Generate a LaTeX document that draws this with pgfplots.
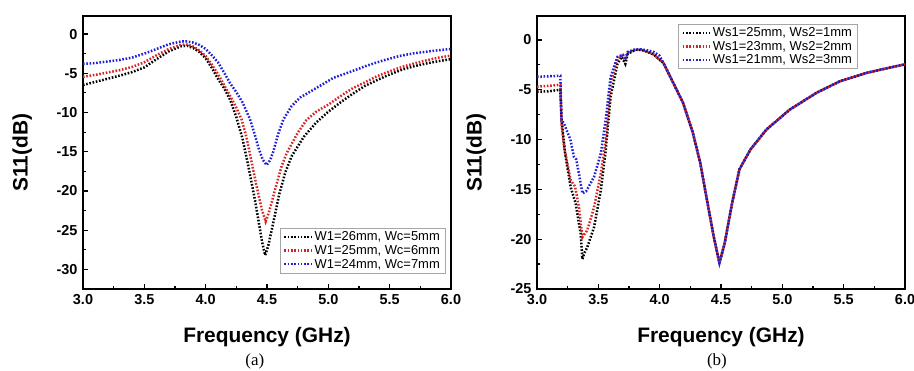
\documentclass[border=0pt]{standalone}
\usepackage{pgfplots}
\pgfplotsset{compat=1.18}
\usepackage{fontspec}
\setmainfont{Liberation Sans}
\newfontfamily\serifcap{Liberation Serif}
\definecolor{cred}{RGB}{215,35,35}
\definecolor{cblue}{RGB}{30,30,215}
\pgfplotsset{
  sparam/.style={
    scale only axis, width=368bp, height=273bp,
    xmin=3, xmax=6,
    xtick={3,3.5,...,6},
    minor x tick num=1, minor y tick num=1,
    xtick pos=bottom, ytick pos=left,
    tick align=inside,
    clip mode=individual,
    major tick length=5bp, minor tick length=3bp,
    every tick/.style={black, line width=1.2bp},
    axis line style={line width=1.6bp},
    /pgf/number format/assume math mode=true,
    xticklabel style={/pgf/number format/fixed, /pgf/number format/fixed zerofill, /pgf/number format/precision=1, yshift=-2bp},
    ticklabel style={font=\bfseries\fontsize{14.5}{16}\selectfont},
    yticklabel style={xshift=-2bp},
    label style={font=\bfseries\fontsize{21}{24}\selectfont},
    xlabel={Frequency (GHz)},
    ylabel={S11(dB)},
    xlabel style={at={(axis description cs:0.5,-0.176)}, anchor=center},
    ylabel style={at={(axis description cs:-0.165,0.5)}, anchor=center, rotate=0},
    legend style={draw=gray!70, line width=0.6bp, font=\fontsize{13}{15}\selectfont,
      inner xsep=3bp, inner ysep=1.5bp, row sep=-1bp, cells={anchor=west}},
    legend image code/.code={\draw[#1] (0bp,0bp) -- (27bp,0bp);},
    every axis plot/.append style={line width=2.5bp, line cap=butt, dash pattern=on 1.6bp off 1.7bp},
  }
}
\begin{document}
\begin{tikzpicture}[x=1bp,y=1bp]
\useasboundingbox (0,0) rectangle (914,370);
\begin{axis}[sparam, at={(83bp,81bp)}, anchor=south west,
  ymin=-32.5, ymax=2.3, ytick={-30,-25,...,0},
  legend style={at={(0.984,0.223)}, anchor=north east}]
\addplot[black] coordinates {
(3.0,-6.5)(3.1,-6.1)(3.2,-5.7)(3.3,-5.3)(3.4,-4.85)(3.5,-4.25)(3.6,-3.2)(3.7,-2.2)(3.8,-1.55)(3.85,-1.5)(3.9,-1.8)(3.95,-2.3)(4.0,-3.1)(4.05,-4.3)(4.1,-5.7)(4.15,-6.9)(4.2,-8.4)(4.25,-10.6)(4.3,-13.3)(4.35,-17.0)(4.4,-21.0)(4.43,-23.7)(4.46,-26.5)(4.485,-28.2)(4.51,-27.0)(4.535,-25.2)(4.56,-23.4)(4.6,-20.4)(4.65,-17.6)(4.7,-15.6)(4.8,-13.1)(4.9,-11.3)(5.0,-9.9)(5.1,-8.7)(5.2,-7.6)(5.3,-6.6)(5.4,-5.85)(5.5,-5.15)(5.6,-4.55)(5.7,-4.1)(5.8,-3.75)(5.9,-3.45)(6.0,-3.2)};
\addlegendentry{W1=26mm, Wc=5mm}
\addplot[cred] coordinates {
(3.0,-5.45)(3.1,-5.2)(3.2,-4.9)(3.3,-4.6)(3.4,-4.2)(3.5,-3.6)(3.6,-2.7)(3.7,-1.9)(3.8,-1.35)(3.85,-1.35)(3.9,-1.6)(3.95,-2.1)(4.0,-2.8)(4.05,-3.9)(4.1,-5.1)(4.15,-6.5)(4.2,-7.9)(4.25,-9.4)(4.293,-10.9)(4.33,-13.0)(4.36,-15.2)(4.415,-19.4)(4.46,-22.5)(4.489,-23.9)(4.52,-22.5)(4.573,-19.4)(4.62,-16.8)(4.66,-15.2)(4.75,-12.6)(4.82,-11.0)(4.9,-9.9)(5.0,-9.0)(5.1,-7.9)(5.2,-6.9)(5.3,-6.15)(5.4,-5.35)(5.5,-4.75)(5.6,-4.2)(5.7,-3.75)(5.8,-3.35)(5.9,-3.0)(6.0,-2.75)};
\addlegendentry{W1=25mm, Wc=6mm}
\addplot[cblue] coordinates {
(3.0,-3.8)(3.1,-3.7)(3.2,-3.5)(3.3,-3.3)(3.4,-3.0)(3.5,-2.5)(3.6,-1.9)(3.7,-1.3)(3.8,-0.95)(3.85,-0.95)(3.9,-1.1)(3.95,-1.4)(4.0,-1.9)(4.05,-2.7)(4.1,-3.6)(4.15,-4.9)(4.2,-6.3)(4.25,-7.4)(4.3,-8.7)(4.36,-10.8)(4.4,-12.8)(4.43,-14.5)(4.465,-16.0)(4.497,-16.7)(4.525,-16.1)(4.551,-15.0)(4.59,-12.8)(4.633,-10.9)(4.7,-9.2)(4.77,-8.1)(4.9,-6.9)(5.04,-5.6)(5.2,-4.7)(5.31,-4.05)(5.45,-3.35)(5.58,-2.8)(5.7,-2.45)(5.85,-2.15)(6.0,-1.9)};
\addlegendentry{W1=24mm, Wc=7mm}
\node[font=\serifcap\fontsize{17}{19}\selectfont] at (axis description cs:0.467,-0.267) {(a)};
\end{axis}
\begin{axis}[sparam, at={(537bp,81bp)}, anchor=south west,
  ymin=-25, ymax=2.4, ytick={-25,-20,...,0},
  legend style={at={(0.870,0.971)}, anchor=north east}]
\addplot[black] coordinates {
(3.0,-5.2)(3.1,-5.15)(3.19,-5.0)(3.2,-8.0)(3.23,-11.5)(3.275,-14.8)(3.315,-16.4)(3.355,-19.4)(3.37,-22.0)(3.39,-21.3)(3.41,-20.8)(3.465,-18.8)(3.52,-15.1)(3.56,-11.1)(3.6,-5.7)(3.656,-2.4)(3.69,-1.7)(3.72,-2.4)(3.74,-1.4)(3.8,-1.0)(3.85,-1.0)(3.9,-1.2)(3.95,-1.45)(4.0,-2.0)(4.03,-2.3)(4.11,-4.3)(4.19,-6.3)(4.27,-9.3)(4.33,-12.3)(4.38,-15.7)(4.44,-19.7)(4.487,-22.4)(4.53,-20.4)(4.59,-16.4)(4.65,-13.0)(4.74,-11.0)(4.87,-9.0)(5.06,-7.0)(5.28,-5.3)(5.47,-4.15)(5.69,-3.3)(5.85,-2.85)(6.0,-2.45)};
\addlegendentry{Ws1=25mm, Ws2=1mm}
\addplot[cred] coordinates {
(3.0,-4.7)(3.1,-4.6)(3.19,-4.5)(3.2,-8.5)(3.22,-10.7)(3.275,-14.1)(3.31,-14.7)(3.342,-16.8)(3.37,-19.8)(3.41,-19.1)(3.465,-16.8)(3.52,-13.4)(3.56,-10.1)(3.6,-4.4)(3.656,-1.9)(3.69,-1.6)(3.72,-2.0)(3.74,-1.3)(3.8,-1.0)(3.85,-1.0)(3.9,-1.2)(3.95,-1.45)(4.0,-2.0)(4.03,-2.3)(4.11,-4.3)(4.19,-6.3)(4.27,-9.3)(4.33,-12.3)(4.38,-15.7)(4.44,-19.7)(4.487,-22.4)(4.53,-20.4)(4.59,-16.4)(4.65,-13.0)(4.74,-11.0)(4.87,-9.0)(5.06,-7.0)(5.28,-5.3)(5.47,-4.15)(5.69,-3.3)(5.85,-2.85)(6.0,-2.45)};
\addlegendentry{Ws1=23mm, Ws2=2mm}
\addplot[cblue] coordinates {
(3.0,-3.7)(3.1,-3.65)(3.19,-3.6)(3.2,-8.0)(3.22,-8.4)(3.272,-10.0)(3.30,-11.7)(3.32,-12.0)(3.35,-14.0)(3.37,-15.4)(3.40,-15.2)(3.465,-13.75)(3.52,-11.4)(3.56,-8.0)(3.6,-3.7)(3.656,-1.7)(3.7,-1.5)(3.72,-1.8)(3.74,-1.2)(3.8,-0.95)(3.85,-0.95)(3.9,-1.05)(3.95,-1.2)(4.0,-1.6)(4.03,-2.3)(4.11,-4.3)(4.19,-6.3)(4.27,-9.3)(4.33,-12.3)(4.38,-15.7)(4.44,-19.7)(4.487,-22.4)(4.53,-20.4)(4.59,-16.4)(4.65,-13.0)(4.74,-11.0)(4.87,-9.0)(5.06,-7.0)(5.28,-5.3)(5.47,-4.15)(5.69,-3.3)(5.85,-2.85)(6.0,-2.45)};
\addlegendentry{Ws1=21mm, Ws2=3mm}
\node[font=\serifcap\fontsize{17}{19}\selectfont] at (axis description cs:0.489,-0.267) {(b)};
\end{axis}
\end{tikzpicture}
\end{document}
